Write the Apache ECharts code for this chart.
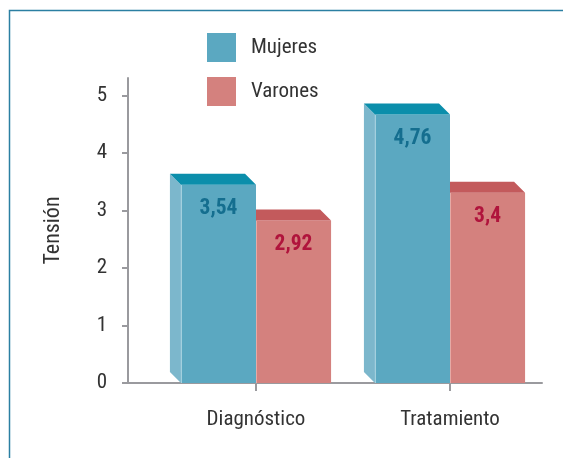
<!DOCTYPE html>
<html>
<head>
<meta charset="utf-8">
<script src="https://cdn.jsdelivr.net/npm/echarts@6/dist/echarts.min.js"></script>
<style>html,body{margin:0;padding:0;background:#fff}#c{width:563px;height:458px}</style>
</head>
<body>
<div id="c"></div>
<script>
const categories = ['Diagnóstico', 'Tratamiento'];
const seriesNames = ['Mujeres', 'Varones'];
const mujeres = [3.54, 4.76];
const varones = [2.92, 3.4];
const yTicks = [0, 1, 2, 3, 4, 5];
const yMax = 5.3;

const FONT = "'Roboto Condensed', 'Liberation Sans Narrow', sans-serif";

function make3D(side, col, labelColor) {
  return function (params, api) {
    const cat = api.value(0), v = api.value(1);
    const c = api.coord([cat, v]);
    const base = api.coord([cat, 0]);
    const band = api.size([1, 0])[0];
    const w = band * 0.387;
    const dx = 11, dy = 11;
    const xL = side < 0 ? c[0] - w : c[0];
    const xR = xL + w;
    const yF = c[1] + dy / 2, yB = c[1] - dy / 2, y0 = base[1];
    return {
      type: 'group',
      children: [
        { type: 'polygon', shape: { points: [[xL - dx, yB], [xL, yF], [xL, y0], [xL - dx, y0 - dy]] },
          style: { fill: col.side } },
        { type: 'rect', shape: { x: xL, y: yF, width: w, height: y0 - yF },
          style: { fill: col.front } },
        { type: 'line', shape: { x1: xL + 0.5, y1: yF, x2: xL + 0.5, y2: y0 },
          style: { stroke: col.edge, lineWidth: 1 } },
        { type: 'polygon', shape: { points: [[xL - dx, yB], [xR - dx, yB], [xR, yF], [xL, yF]] },
          style: { fill: col.top } },
        { type: 'text', style: { text: String(v).replace('.', ','), x: (xL + xR) / 2, y: yF + 24,
            align: 'center', verticalAlign: 'middle', fill: labelColor,
            fontSize: 21.5, fontWeight: 'bold', fontFamily: FONT } }
      ]
    };
  };
}

const chart = echarts.init(document.getElementById('c'), null, { renderer: 'canvas' });
chart.setOption({
  animation: false,
  textStyle: { fontFamily: FONT },
  graphic: [{ type: 'rect', shape: { x: 9.5, y: 10.5, width: 700, height: 600 },
    style: { fill: 'none', stroke: '#2b7fa2', lineWidth: 1.5 }, z: 0 }],
  legend: {
    data: seriesNames, orient: 'vertical', left: 207, top: 33, padding: 0,
    icon: 'rect', itemWidth: 29, itemHeight: 29, itemGap: 15,
    textStyle: { fontSize: 21, color: '#333', fontFamily: FONT, padding: [3, 0, 0, 10] }
  },
  grid: [
    { left: 128, right: 21, top: 78, bottom: 75 },
    { left: 159, right: 16, top: 78, bottom: 75 }
  ],
  xAxis: [
    { type: 'value', gridIndex: 0, min: 0, max: 1, axisLine: { show: true, onZero: false, lineStyle: { color: '#9a9a9e', width: 2 } },
      axisTick: { show: false }, axisLabel: { show: false }, splitLine: { show: false } },
    { type: 'category', gridIndex: 1, data: categories, offset: 9,
      axisLine: { show: false }, axisTick: { show: true, alignWithLabel: true, length: 8, lineStyle: { color: '#9a9a9e', width: 2 } },
      axisLabel: { fontSize: 21, color: '#333', margin: 17, fontFamily: FONT }, splitLine: { show: false } }
  ],
  yAxis: [
    { type: 'value', gridIndex: 0, min: 0, max: yMax,
      name: 'Tensión', nameLocation: 'middle', nameGap: 64, nameRotate: 90,
      nameTextStyle: { fontSize: 22, color: '#333', fontFamily: FONT },
      axisLine: { show: true, lineStyle: { color: '#9a9a9e', width: 2 } },
      axisTick: { show: true, length: 6, customValues: yTicks, lineStyle: { color: '#9a9a9e', width: 2 } },
      axisLabel: { customValues: yTicks, fontSize: 21, color: '#333', margin: 21, fontFamily: FONT },
      splitLine: { show: false } },
    { type: 'value', gridIndex: 1, min: 0, max: yMax, show: false, splitLine: { show: false } }
  ],
  series: [
    { name: 'Varones', type: 'custom', xAxisIndex: 1, yAxisIndex: 1, z: 2,
      itemStyle: { color: '#d4817e' },
      renderItem: make3D(1, { front: '#d4817e', top: '#c35a5c', side: '#dc9a96', edge: '#e6aaa6' }, '#b0143c'),
      encode: { x: 0, y: 1 },
      data: varones.map((v, i) => [i, v]) },
    { name: 'Mujeres', type: 'custom', xAxisIndex: 1, yAxisIndex: 1, z: 3,
      itemStyle: { color: '#5ba8c1' },
      renderItem: make3D(-1, { front: '#5ba8c1', top: '#0b8eab', side: '#7cb7cc', edge: '#a9d3e0' }, '#146e8f'),
      encode: { x: 0, y: 1 },
      data: mujeres.map((v, i) => [i, v]) }
  ]
});
</script>
</body>
</html>
